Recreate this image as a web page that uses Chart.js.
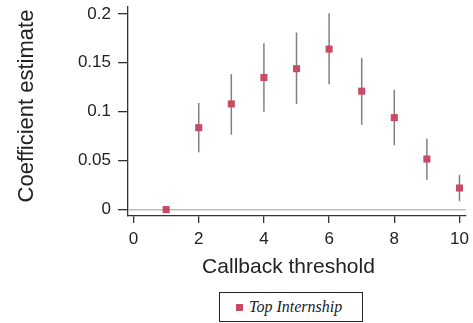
<!DOCTYPE html>
<html>
<head>
<meta charset="utf-8">
<script src="https://cdn.jsdelivr.net/npm/chart.js@4/dist/chart.umd.min.js"></script>
<style>
  html, body { margin: 0; padding: 0; background: #fff; }
  #wrap { position: relative; width: 473px; height: 323px; }
  #legend {
    position: absolute; left: 219px; top: 292px; width: 144px; height: 30px;
    box-sizing: border-box; border: 1.3px solid #222; background: #fff;
    font-family: "Liberation Serif", "DejaVu Serif", serif; font-style: italic;
    font-size: 16px; color: #222; display: flex; align-items: center;
  }
  #legend .sw { width: 7px; height: 7px; background: #c84a65; margin-left: 16px; margin-right: 6px; }
</style>
</head>
<body>
<div id="wrap">
  <canvas id="c" width="473" height="323"></canvas>
  <div id="legend"><span class="sw"></span><span>Top Internship</span></div>
</div>
<script>
const thresholds = [1, 2, 3, 4, 5, 6, 7, 8, 9, 10];
const estimates  = [0, 0.0837, 0.108, 0.135, 0.144, 0.164, 0.121, 0.094, 0.0517, 0.0221];
const ciLower    = [0, 0.0585, 0.0765, 0.100, 0.108, 0.128, 0.0867, 0.0656, 0.0306, 0.0085];
const ciUpper    = [0, 0.109, 0.1385, 0.170, 0.181, 0.2007, 0.155, 0.1224, 0.0724, 0.0357];
const xTicks = [0, 2, 4, 6, 8, 10];
const yTicks = [0, 0.05, 0.1, 0.15, 0.2];
const seriesName = "Top Internship";
const xTitle = "Callback threshold";
const yTitle = "Coefficient estimate";

const FONT = "'Liberation Sans', Arial, Helvetica, sans-serif";

const errorBars = {
  id: 'errorBars',
  beforeDatasetsDraw(chart) {
    const { ctx, scales: { x, y }, chartArea } = chart;
    ctx.save();
    ctx.strokeStyle = '#bdbdbd';
    ctx.lineWidth = 1.5;
    ctx.beginPath();
    const y0 = y.getPixelForValue(0);
    ctx.moveTo(chartArea.left, y0);
    ctx.lineTo(chartArea.right, y0);
    ctx.stroke();
    ctx.strokeStyle = '#808080';
    ctx.lineWidth = 1.5;
    thresholds.forEach((t, i) => {
      if (ciUpper[i] === ciLower[i]) return;
      const px = x.getPixelForValue(t);
      ctx.beginPath();
      ctx.moveTo(px, y.getPixelForValue(ciLower[i]));
      ctx.lineTo(px, y.getPixelForValue(ciUpper[i]));
      ctx.stroke();
    });
    ctx.restore();
  },
  afterDraw(chart) {
    const { ctx } = chart;
    ctx.save();
    ctx.fillStyle = '#222';
    ctx.textAlign = 'center';
    ctx.textBaseline = 'alphabetic';
    ctx.font = '21px ' + FONT;
    ctx.fillText(xTitle, 288.5, 273);
    ctx.font = '22px ' + FONT;
    ctx.translate(32.5, 106);
    ctx.rotate(-Math.PI / 2);
    ctx.fillText(yTitle, 0, 0);
    ctx.restore();
  }
};

new Chart(document.getElementById('c'), {
  type: 'scatter',
  data: {
    datasets: [{
      label: seriesName,
      data: thresholds.map((t, i) => ({ x: t, y: estimates[i] })),
      pointStyle: 'rect',
      pointRadius: 5,
      pointHoverRadius: 5,
      backgroundColor: '#c84a65',
      borderColor: '#c84a65',
      borderWidth: 0
    }]
  },
  options: {
    responsive: false,
    animation: false,
    devicePixelRatio: 1,
    layout: { padding: { left: 7, right: 7, top: 7, bottom: 41 } },
    plugins: { legend: { display: false }, tooltip: { enabled: false } },
    scales: {
      x: {
        type: 'linear',
        min: -0.17, max: 10.2,
        afterBuildTicks: s => { s.ticks = xTicks.map(v => ({ value: v })); },
        afterFit: s => { s.height = 66; s.paddingLeft = 0; s.paddingRight = 0; },
        grid: { drawOnChartArea: false, drawTicks: true, tickLength: 7, color: '#333', lineWidth: 1.3 },
        border: { display: true, color: '#333', width: 1.3 },
        ticks: { color: '#222', font: { family: FONT, size: 17 }, padding: 6, maxRotation: 0, autoSkip: false },
        title: { display: false }
      },
      y: {
        type: 'linear',
        min: -0.0065, max: 0.207,
        afterBuildTicks: s => { s.ticks = yTicks.map(v => ({ value: v })); },
        afterFit: s => { s.width = 121; s.paddingTop = 0; s.paddingBottom = 0; },
        grid: { drawOnChartArea: false, drawTicks: true, tickLength: 10, color: '#333', lineWidth: 1.3 },
        border: { display: true, color: '#333', width: 1.3 },
        ticks: { color: '#222', font: { family: FONT, size: 17 }, padding: 7, callback: v => String(Math.round(v * 100) / 100) },
        title: { display: false }
      }
    }
  },
  plugins: [errorBars]
});
</script>
</body>
</html>
